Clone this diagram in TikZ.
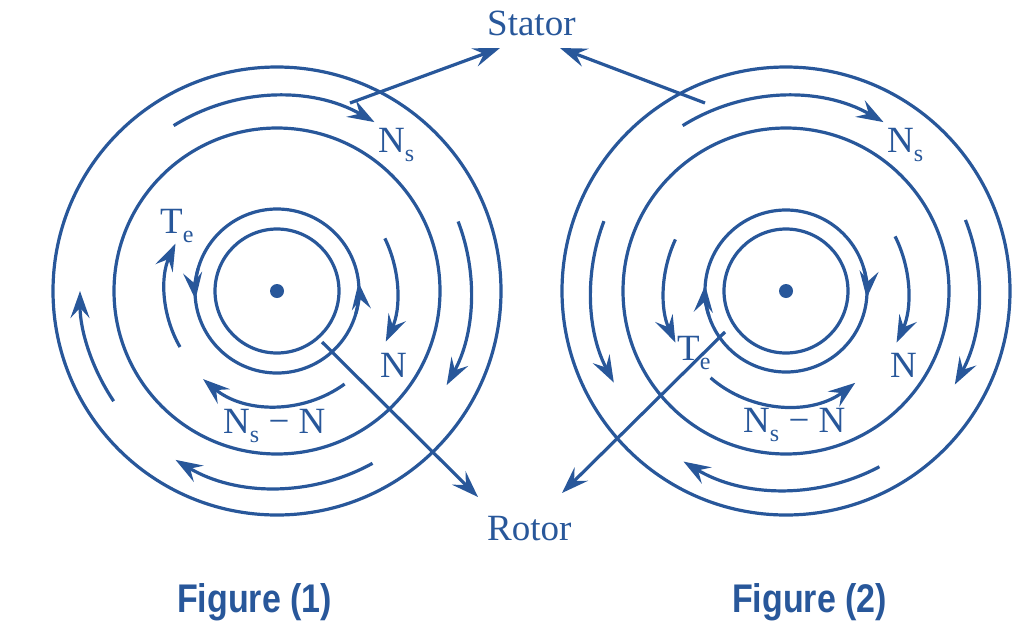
\documentclass[tikz,border=0pt]{standalone}
\usepackage{fontspec}
\setmainfont{Liberation Serif}
\newfontfamily\figfont[FakeStretch=0.85]{Liberation Sans}
\usetikzlibrary{arrows.meta}
\definecolor{mblue}{RGB}{40,87,154}
\newcommand\subs[1]{\raisebox{-9pt}{\fontsize{24}{24}\selectfont #1}}
\tikzset{
  ln/.style={draw=mblue, line width=3.2pt},
  arr/.style={ln, -{Stealth[length=27pt,width=19pt,inset=10pt]}},
  lbl/.style={text=mblue, inner sep=0pt, anchor=base west, font=\fontsize{37}{37}\selectfont},
  figcap/.style={text=mblue, inner sep=0pt, anchor=base west, font=\figfont\bfseries\fontsize{40}{40}\selectfont},
}
\begin{document}
\begin{tikzpicture}[x=1pt,y=1pt]
\useasboundingbox (0,0) rectangle (1024,-640);
% centres
\coordinate (c1) at (277,-291);
\coordinate (c2) at (786,-291);
% ---------- Figure 1 ----------
\draw[ln] (c1) circle[radius=224pt];
\draw[ln] (c1) circle[radius=163pt];
\draw[ln] (c1) circle[radius=82pt];
\draw[ln] (c1) circle[radius=62pt];
\fill[mblue] (c1) circle[radius=7pt];
% outer arrows (clockwise)
\draw[arr] ([shift={(122:195pt)}]c1) arc[start angle=122,end angle=60,radius=195pt];
\draw[arr] ([shift={(21:194pt)}]c1) arc[start angle=21,end angle=-29,radius=194pt];
\draw[arr] ([shift={(-61:197pt)}]c1) arc[start angle=-61,end angle=-121,radius=197pt];
\draw[arr] ([shift={(214:197pt)}]c1) arc[start angle=214,end angle=180,radius=197pt];
% inner arrows
\draw[arr] ([shift={(26:120pt)}]c1) arc[start angle=26,end angle=-25,radius=120pt];
\draw[arr] ([shift={(-54:115pt)}]c1) arc[start angle=-54,end angle=-130,radius=115pt];
\draw[arr] ([shift={(210:112pt)}]c1) arc[start angle=210,end angle=155,radius=112pt];
% rotor circle arrowheads (counterclockwise)
\draw[arr] ([shift={(164:82pt)}]c1) arc[start angle=164,end angle=186,radius=82pt];
\draw[arr] ([shift={(-16:82pt)}]c1) arc[start angle=-16,end angle=6,radius=82pt];
% labels
\node[lbl] (ns1) at (378,-152) {N\subs{s}};
\node[lbl] (te1) at (160,-233) {T\subs{e}};
\node[lbl] (n1) at (380,-377) {N};
\node[lbl] (nsn1) at (223,-433) {N\subs{s}\ −\ N};
% ---------- Figure 2 ----------
\draw[ln] (c2) circle[radius=224pt];
\draw[ln] (c2) circle[radius=163pt];
\draw[ln] (c2) circle[radius=81pt];
\draw[ln] (c2) circle[radius=62pt];
\fill[mblue] (c2) circle[radius=7pt];
\draw[arr] ([shift={(122:195pt)}]c2) arc[start angle=122,end angle=60,radius=195pt];
\draw[arr] ([shift={(21.6:193pt)}]c2) arc[start angle=21.6,end angle=-29,radius=193pt];
\draw[arr] ([shift={(-62:199pt)}]c2) arc[start angle=-62,end angle=-121,radius=199pt];
\draw[arr] ([shift={(159:195pt)}]c2) arc[start angle=159,end angle=208,radius=195pt];
\draw[arr] ([shift={(26.6:122pt)}]c2) arc[start angle=26.6,end angle=-25,radius=122pt];
\draw[arr] ([shift={(155:122pt)}]c2) arc[start angle=155,end angle=205,radius=122pt];
\draw[arr] ([shift={(-131:115pt)}]c2) arc[start angle=-131,end angle=-53,radius=115pt];
% rotor circle arrowheads (clockwise)
\draw[arr] ([shift={(16:81pt)}]c2) arc[start angle=16,end angle=-5,radius=81pt];
\draw[arr] ([shift={(198:81pt)}]c2) arc[start angle=198,end angle=176,radius=81pt];
\node[lbl] (ns2) at (887,-152) {N\subs{s}};
\node[lbl] (te2) at (677,-360) {T\subs{e}};
\node[lbl] (n2) at (890,-377) {N};
\node[lbl] (nsn2) at (743,-432) {N\subs{s}\ −\ N};
% ---------- Stator / Rotor ----------
\node[lbl] (stator) at (487,-35) {Stator};
\node[lbl] (rotor) at (487,-540) {Rotor};
\coordinate (st1) at (350,-103);
\coordinate (st1t) at (500,-48);
\coordinate (st2) at (705,-103);
\coordinate (st2t) at (560,-48);
\coordinate (ro1) at (322,-342);
\coordinate (ro1t) at (478,-497);
\coordinate (ro2) at (725,-332);
\coordinate (ro2t) at (562,-493);
\draw[arr] (st1) -- (st1t);
\draw[arr] (st2) -- (st2t);
\draw[arr] (ro1) -- (ro1t);
\draw[arr] (ro2) -- (ro2t);
% captions
\node[figcap] (f1) at (177,-612) {Figure (1)};
\node[figcap] (f2) at (732,-612) {Figure (2)};
\end{tikzpicture}
\end{document}
